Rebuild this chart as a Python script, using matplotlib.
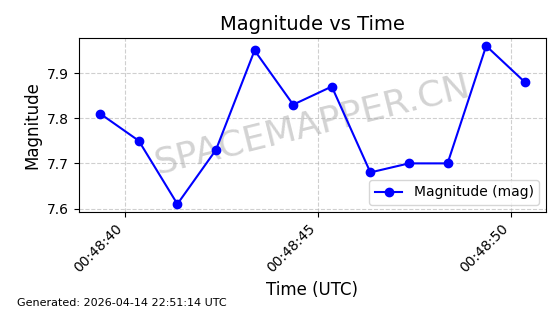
import matplotlib
matplotlib.use('Agg')
import matplotlib.pyplot as plt
import matplotlib.dates as mdates
import pandas as pd

# observation times (UTC) and magnitudes
times = pd.to_datetime([
    '2026-04-14 00:48:39.36', '2026-04-14 00:48:40.36', '2026-04-14 00:48:41.36',
    '2026-04-14 00:48:42.36', '2026-04-14 00:48:43.36', '2026-04-14 00:48:44.36',
    '2026-04-14 00:48:45.36', '2026-04-14 00:48:46.36', '2026-04-14 00:48:47.36',
    '2026-04-14 00:48:48.36', '2026-04-14 00:48:49.36', '2026-04-14 00:48:50.36'])
mags = [7.81, 7.75, 7.61, 7.73, 7.95, 7.83, 7.87, 7.68, 7.70, 7.70, 7.96, 7.88]
footer = 'Generated: 2026-04-14 22:51:14 UTC'

fig = plt.figure(figsize=(5.6, 3.14), dpi=100)
ax = fig.add_axes([0.141, 0.325, 0.834, 0.554])

ax.plot(times, mags, color='blue', marker='o', markersize=6, linewidth=1.5,
        label='Magnitude (mag)', zorder=3)

ax.text(0.5, 0.5, 'SPACEMAPPER.CN', transform=ax.transAxes, fontsize=26,
        color='gray', alpha=0.35, rotation=14, ha='center', va='center', zorder=1)

ax.set_title('Magnitude vs Time', fontsize=14)
ax.set_xlabel('Time (UTC)', fontsize=12)
ax.set_ylabel('Magnitude', fontsize=12)
ax.grid(True, linestyle='--', alpha=0.6)
ax.xaxis.set_major_locator(mdates.SecondLocator(bysecond=range(0, 60, 5)))
ax.xaxis.set_major_formatter(mdates.DateFormatter('%H:%M:%S'))
plt.setp(ax.get_xticklabels(), rotation=45, ha='right')
ax.legend(loc='lower right')

fig.text(0.03, 0.025, footer, fontsize=8)

fig.savefig('out.png', dpi=100)
